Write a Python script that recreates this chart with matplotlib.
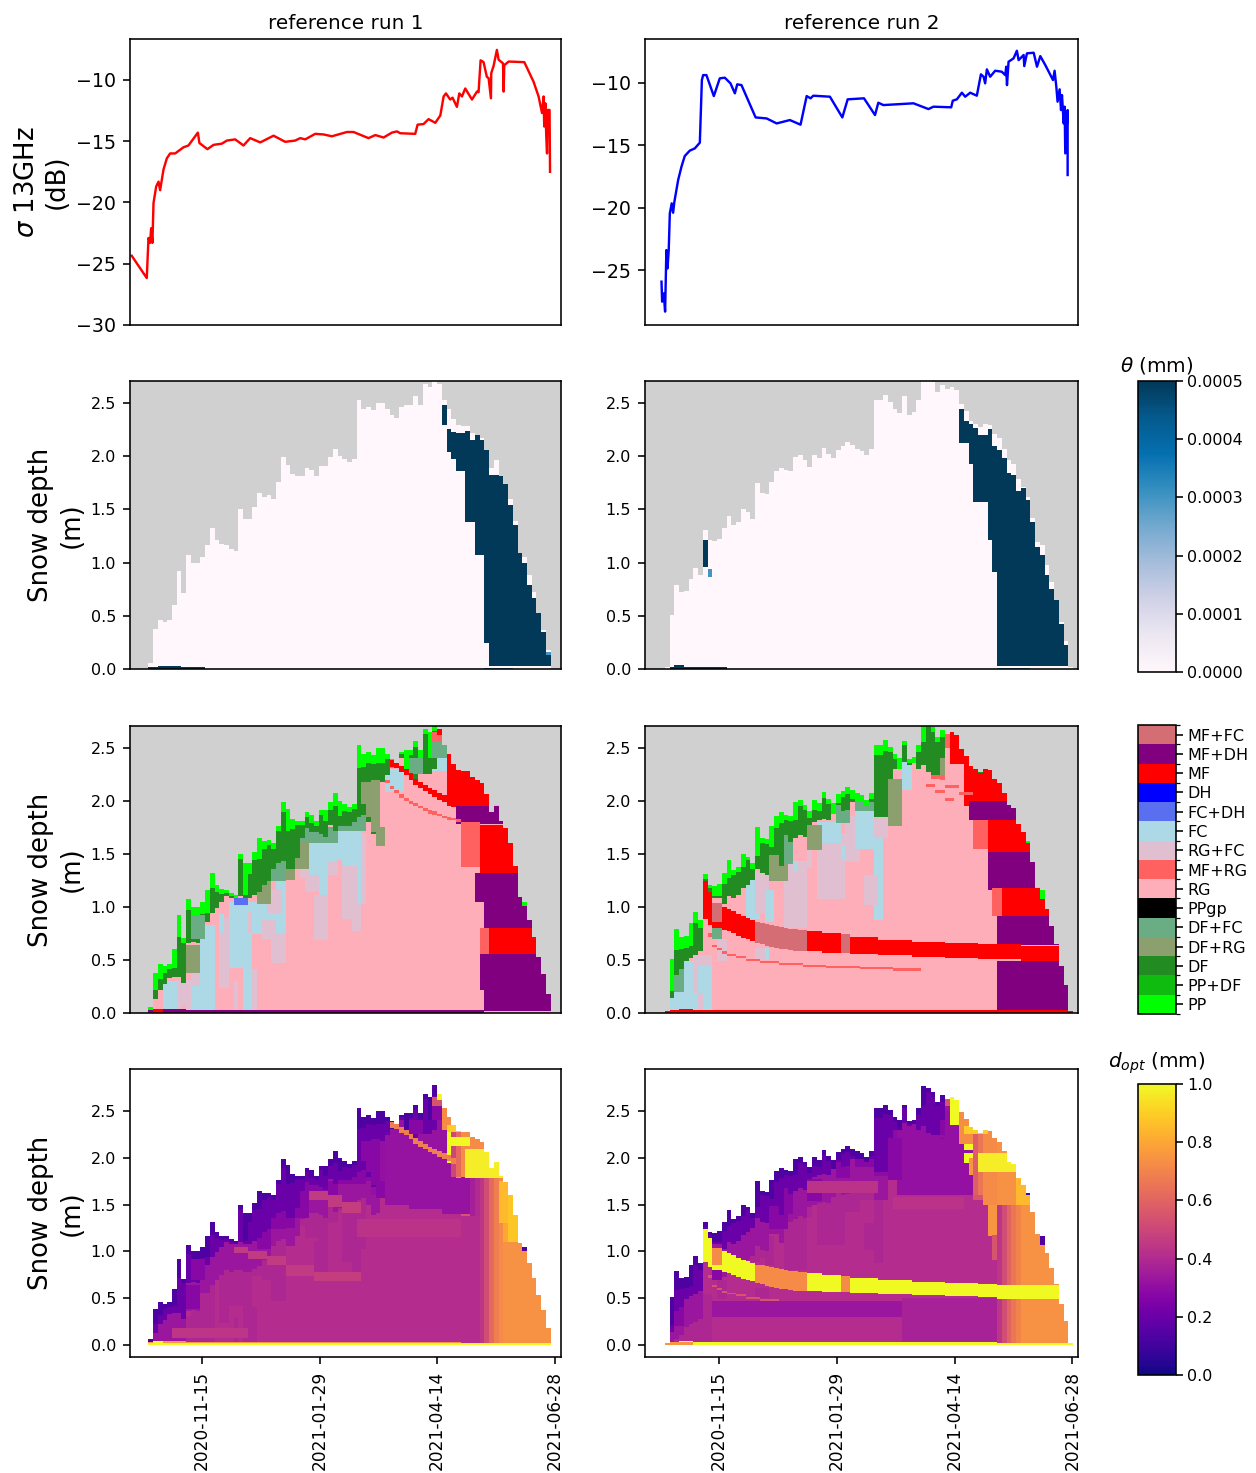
import numpy as np
from matplotlib import pyplot as plt
from matplotlib import dates as mdates
from matplotlib.cm import ScalarMappable
from matplotlib.colors import ListedColormap, BoundaryNorm, Normalize

W, H = 1256, 1473

tick_dates = ['2020-11-15', '2021-01-29', '2021-04-14', '2021-06-28']
titles = ['reference run 1', 'reference run 2']
grain_labels = ['PP', 'PP+DF', 'DF', 'DF+RG', 'DF+FC', 'PPgp', 'RG', 'MF+RG', 'RG+FC',
                'FC', 'FC+DH', 'DH', 'MF', 'MF+DH', 'MF+FC']
grain_colors = ['#00ff00', '#10bb10', '#228b22', '#8b9f6f', '#6aad85', '#000000', '#fdaeb9', '#ff6060', '#e0c0d0',
                '#add8e6', '#5a6ef0', '#0000ff', '#ff0000', '#800080', '#d56d75']
PP, PPDF, DF, DFRG, DFFC, PPGP, RG, MFRG, RGFC, FC, FCDH, DH, MF, MFDH, MFFC = range(15)
# typical optical diameter per grain type, mm
grain_dopt = [.13, .17, .20, .28, .28, .10, .41, .55, .39, .39, .40, .50, 1.0, .75, .72]

# backscatter: day counted from 2020-09-30, dB
sigma_day_1 = [1.1, 10.7, 11.8, 12.8, 13.5, 14.3, 15.0, 16.7, 18.2, 19.2, 21.4, 23.5, 25.6, 28.8, 34.1, 37.3, 43.3, 44.3,
               49.4, 53.3, 58.6, 61.8, 67.1, 72.4, 76.7, 83.1, 91.6, 99.0, 105.4, 108.6, 111.8, 118.2, 123.5, 128.8,
               138.4, 142.6, 152.2, 156.5, 161.8, 167.1, 170.3, 172.4, 182.0, 183.5, 187.3, 190.5, 194.8, 198.0, 200.1,
               201.6, 204.3, 205.8, 208.6, 210.1, 211.8, 213.9, 218.2, 221.4, 222.4, 223.7, 225.6, 227.7, 228.8, 230.3,
               230.5, 232.0, 234.1, 235.2, 238.0, 238.4, 238.8, 241.6, 251.6, 257.5, 260.7, 262.9, 263.9, 264.3, 265.0,
               265.6, 266.1, 266.5, 267.7, 268.0]
sigma_val_1 = [-24.35, -26.17, -22.9, -23.3, -22.1, -23.3, -20.05, -18.7, -18.3, -19.0, -17.3, -16.4, -16.0, -16.0, -15.5,
               -15.35, -14.3, -15.15, -15.65, -15.3, -15.2, -14.95, -14.85, -15.35, -14.75, -15.1, -14.55, -15.05, -14.95,
               -14.75, -14.85, -14.4, -14.45, -14.6, -14.25, -14.25, -14.75, -14.5, -14.7, -14.3, -14.2, -14.35, -14.4,
               -13.65, -13.6, -13.2, -13.5, -12.9, -11.35, -11.1, -11.6, -11.45, -12.2, -11.1, -11.35, -10.7, -11.6,
               -10.95, -11.0, -8.4, -8.55, -9.75, -9.85, -11.5, -9.45, -8.85, -7.55, -8.35, -8.65, -10.95, -8.8, -8.5,
               -8.55, -10.15, -11.35, -12.7, -11.35, -13.8, -11.9, -14.6, -16.0, -12.45, -12.45, -17.5]
sigma_day_2 = [9.5, 9.9, 10.9, 11.8, 12.6, 13.3, 14.1, 14.8, 16.0, 16.9, 17.7, 20.1, 22.2, 24.3, 27.5, 30.7, 33.9, 35.2,
               36.0, 38.1, 42.8, 46.6, 49.8, 53.4, 56.2, 57.7, 60.4, 69.4, 76.4, 82.8, 91.2, 98.0, 101.9, 104.4, 106.1,
               116.7, 124.6, 128.0, 138.4, 145.4, 147.5, 150.7, 169.9, 179.4, 182.6, 193.9, 194.9, 197.5, 200.7, 202.8,
               206.0, 210.2, 212.8, 214.5, 215.5, 216.6, 218.7, 221.9, 226.1, 228.3, 228.9, 229.4, 230.4, 233.6, 235.7,
               236.8, 240.0, 240.4, 242.1, 246.4, 248.5, 250.6, 253.8, 258.7, 259.7, 260.8, 261.6, 262.9, 263.8, 264.4,
               265.5, 266.1, 266.5, 268.0, 268.0]
sigma_val_2 = [-25.93, -27.53, -26.87, -28.33, -23.4, -24.87, -23.4, -20.46, -19.66, -20.41, -19.53, -17.79, -16.73, -15.87,
               -15.44, -15.26, -14.8, -9.79, -9.39, -9.39, -11.07, -9.65, -9.6, -10.05, -10.85, -10.13, -10.19, -12.78,
               -12.86, -13.26, -12.99, -13.36, -11.07, -11.25, -11.04, -11.12, -12.78, -11.33, -11.25, -12.59, -11.6,
               -11.79, -11.65, -12.11, -11.92, -11.97, -11.44, -11.33, -10.8, -11.12, -10.8, -11.04, -9.33, -9.52, -10.05,
               -8.93, -9.52, -9.04, -9.12, -9.39, -8.72, -10.19, -8.32, -8.05, -7.44, -8.19, -7.78, -8.67, -7.65, -7.6,
               -8.72, -7.87, -8.59, -9.79, -9.04, -10.32, -11.52, -10.53, -12.19, -10.99, -13.26, -11.92, -15.66, -12.19,
               -17.39]

# snow depth per 3-day column, m
depth_1 = [.06, .38, .46, .44, .46, .60, .92, .71, 1.07, 1.00, 1.00, 1.05, 1.16, 1.32, 1.21, 1.17, 1.16, 1.13, 1.11, 1.50,
           1.41, 1.41, 1.52, 1.65, 1.62, 1.63, 1.60, 1.76, 1.99, 1.92, 1.83, 1.81, 1.81, 1.89, 1.87, 1.81, 1.91, 1.91, 1.99,
           2.07, 2.00, 1.97, 1.94, 1.97, 2.53, 2.44, 2.46, 2.43, 2.50, 2.50, 2.44, 2.39, 2.36, 2.46, 2.48, 2.48, 2.56, 2.48,
           2.68, 2.65, 2.78, 2.68, 2.53, 2.44, 2.35, 2.29, 2.28, 2.28, 2.22, 2.20, 2.17, 2.06, 1.89, 1.96, 1.81, 1.74, 1.60,
           1.39, 1.09, 1.05, .88, .72, .53, .37, .18]
depth_2 = [.02, .51, .79, .72, .73, .85, .95, .88, 1.31, 1.21, 1.20, 1.22, 1.32, 1.44, 1.35, 1.38, 1.50, 1.47, 1.41, 1.75,
           1.65, 1.64, 1.76, 1.86, 1.89, 1.87, 1.86, 1.99, 2.01, 1.96, 1.90, 2.01, 1.98, 2.08, 2.02, 1.98, 2.06, 2.09, 2.13,
           2.10, 2.07, 2.05, 2.01, 2.07, 2.53, 2.53, 2.57, 2.51, 2.44, 2.40, 2.56, 2.39, 2.41, 2.53, 2.77, 2.75, 2.70, 2.60,
           2.67, 2.63, 2.65, 2.62, 2.49, 2.42, 2.33, 2.30, 2.27, 2.30, 2.29, 2.21, 2.17, 2.07, 1.96, 1.93, 1.78, 1.71, 1.62,
           1.42, 1.19, 1.16, .98, .82, .65, .44, .26, .02]

# thickness of fresh snow below the surface, lower limit of the DF layer
pp_thick_1 = [.06, .16, .14, .06, .05, .18, .20, .05, .10, .08, .08, .12, .22, .14, .07, .05, .03, .03, .03, .05, .30, .10,
              .08, .20, .07, .05, .05, .04, .10, .20, .10, .04, .04, .04, .08, .05, .04, .10, .08, .12, .14, .07, .05, .05,
              .22, .12, .10, .08, .14, .14, .05, .08, .04, .02, .18, .05, .05, .10, .05, .25, .12, .22, .0]
df_bottom_1 = [0, .13, .22, .27, .33, .34, .34, .28, .66, .67, .66, .86, .86, .94, .99, 1.05, 1.10, 1.08, 1.10, 1.10, 1.08,
               1.08, 1.11, 1.14, 1.21, 1.24, 1.36, 1.41, 1.43, 1.36, 1.36, 1.46, 1.65, 1.74, 1.71, 1.71, 1.69, 1.66, 1.77,
               1.72, 1.76, 1.76, 1.76, 1.80, 1.85, 1.87, 1.80, 1.69, 1.71, 2.18, 2.24, 2.36, 2.37, 2.40, 2.30, 2.25, 2.20,
               2.25, 2.25, 2.25, 2.30, 2.40, 2.50]
pp_thick_2 = [.02, .30, .20, .12, .12, .22, .10, .08, .05, .03, .10, .12, .10, .17, .05, .05, .12, .03, .05, .27, .05, .05,
              .20, .12, .10, .05, .05, .17, .06, .05, .06, .10, .08, .05, .05, .10, .08, .05, .07, .08, .08, .06, .05, .05,
              .10, .10, .10, .05, .05, .10, .03, .03, .05, .07, .22, .05, .05, .05, .07, .07, .05, .10, .0]
df_bottom_2 = [0, .14, .36, .41, .49, .52, .55, .58, 1.245, 1.144, 1.08, 1.08, 1.03, 1.10, 1.08, 1.11, 1.18, 1.21, 1.25, 1.36,
               1.32, 1.30, 1.49, 1.49, 1.39, 1.68, 1.61, 1.65, 1.68, 1.66, 1.77, 1.80, 1.82, 1.83, 1.82, 1.88, 1.96, 1.90,
               1.91, 1.99, 2.04, 2.04, 2.04, 1.99, 1.85, 1.85, 1.85, 2.21, 2.30, 2.34, 2.37, 2.34, 2.37, 2.30, 2.34, 2.27,
               2.24, 2.23, 2.40, 2.55, 2.55, 2.59, 2.60]

# grain patches as (first col, last col, from m, to m, type)
under_1 = [(3, 5, .02, .30, FC), (6, 8, .02, .31, RGFC), (7, 7, .02, .08, RG), (9, 13, .02, .25, FC), (9, 11, .25, .38, RGFC),
           (11, 13, .25, .83, FC), (15, 16, .24, .90, RGFC), (15, 15, .75, .93, FC), (17, 21, .42, 1.05, FC),
           (18, 18, .02, .30, RGFC), (20, 21, .02, .75, FC), (21, 21, .75, .95, RGFC), (22, 22, .02, .41, RGFC),
           (22, 28, .74, 1.05, FC), (24, 26, .70, .88, RGFC), (26, 28, .47, .74, RGFC), (27, 28, .74, 1.24, FC),
           (25, 27, .94, 1.16, RGFC), (33, 35, 1.14, 1.49, RGFC), (32, 32, 1.27, 1.61, RGFC), (35, 37, .69, 1.11, RGFC),
           (34, 38, 1.30, 1.60, FC), (36, 37, 1.11, 1.30, FC), (38, 39, 1.30, 1.43, RGFC), (38, 39, 1.43, 1.65, FC),
           (40, 41, 1.44, 1.74, FC), (41, 43, 1.39, 1.74, FC), (41, 43, .89, 1.39, RGFC), (43, 44, .77, 1.05, RGFC),
           (44, 44, 1.03, 1.74, FC), (45, 45, 1.03, 1.70, RGFC), (32, 32, 1.61, 1.71, FC),
           (32, 39, 1.60, 1.75, DFFC), (40, 45, 1.72, 1.87, DFFC), (23, 25, 1.03, 1.25, DFRG), (26, 28, 1.24, 1.43, DFFC),
           (29, 30, 1.25, 1.43, DFRG), (31, 33, 1.36, 1.61, DFRG), (8, 10, .38, .64, DFRG), (50, 53, 2.08, 2.30, FC),
           (58, 62, 2.28, 2.42, FC), (18, 20, 1.02, 1.08, FCDH)]
over_1 = [(9, 11, .70, .92, DFFC), (45, 46, 1.97, 2.18, DFRG), (46, 47, 1.85, 2.15, DFRG), (47, 48, 1.71, 2.20, DFRG),
          (48, 49, 1.57, 1.75, DFRG), (55, 57, 2.25, 2.40, DFFC), (60, 63, 2.40, 2.55, DFFC), (60, 63, 2.55, 2.65, MFRG),
          (61, 62, 2.62, 2.90, MF), (63, 72, 1.95, 2.90, MF), (74, 74, 1.81, 2.00, MF), (65, 75, 1.78, 1.95, MFDH),
          (66, 69, 1.38, 1.80, MFRG), (70, 77, 1.32, 1.77, MF), (69, 70, 1.05, 1.32, MFDH), (71, 84, .80, 1.32, MFDH),
          (70, 71, .56, .80, MFRG), (72, 83, .56, .80, MF), (70, 70, .22, .56, MFDH), (71, 84, .02, .56, MFDH),
          (71, 71, 2.12, 2.20, PP), (79, 79, 1.01, 1.05, PP), (0, 70, 0, .03, MFDH), (3, 7, 0, .04, MFDH), (1, 2, 0, .04, MF)]
streak_a_cols = [51, 52, 53, 54, 55, 56, 57, 58, 59, 60, 61, 62, 63, 64]
streak_a_mid = [2.35, 2.34, 2.30, 2.27, 2.23, 2.18, 2.15, 2.12, 2.09, 2.07, 2.04, 2.02, 2.00, 1.97]
streak_b_cols = [50, 51, 52, 53, 54, 55, 56, 57, 58, 59, 60, 61, 62, 63, 64, 65]
streak_b_mid = [2.19, 2.13, 2.09, 2.05, 2.02, 1.99, 1.97, 1.94, 1.92, 1.90, 1.89, 1.87, 1.85, 1.84, 1.83, 1.82]

under_2 = [(4, 6, .02, .49, FC), (6, 9, .19, .55, RGFC), (7, 9, .02, .44, FC), (7, 7, .02, .19, RGFC), (17, 19, .89, 1.25, FC),
           (19, 21, .93, 1.33, RGFC), (21, 22, .86, 1.16, FC), (25, 29, .80, 1.43, RGFC), (27, 27, 1.33, 1.43, FC),
           (30, 30, 1.37, 1.55, RGFC), (32, 37, 1.07, 1.70, RGFC), (32, 36, 1.60, 1.80, FC), (37, 37, 1.44, 1.58, FC),
           (38, 40, 1.42, 1.86, RGFC), (40, 43, 1.55, 1.90, FC), (44, 45, .88, 1.65, FC), (42, 44, 1.02, 1.30, RGFC),
           (44, 46, 1.65, 1.95, RGFC), (22, 25, 1.24, 1.49, DFRG), (25, 26, 1.40, 1.68, DFFC), (30, 32, 1.54, 1.77, DFRG),
           (36, 38, 1.79, 1.96, DFFC), (40, 44, 1.90, 2.04, DFFC), (19, 21, .50, .61, RGFC), (21, 21, .50, .61, FC),
           (50, 51, 2.10, 2.37, FC), (2, 3, .20, .42, DFFC), (1, 3, .03, .20, FC), (10, 11, .70, .80, DFFC),
           (11, 12, .49, .70, RGFC)]
over_2 = [(47, 49, 1.76, 2.21, DFRG), (58, 58, 2.20, 2.40, DFRG), (59, 60, 2.50, 2.66, MFRG), (60, 62, 2.35, 2.70, MF),
          (63, 72, 1.95, 2.90, MF), (64, 74, 1.82, 2.00, MFDH), (65, 67, 1.55, 1.82, MFRG), (68, 76, 1.47, 1.82, MF),
          (68, 77, 1.16, 1.52, MFDH), (69, 70, .91, 1.18, MFRG), (71, 81, .88, 1.18, MF), (70, 83, .64, .91, MFDH),
          (70, 85, .02, .49, MFDH), (70, 70, 2.17, 2.22, PP), (79, 79, 1.07, 1.16, PP), (76, 76, 1.60, 1.64, PP),
          (66, 66, 2.26, 2.30, DF)]
# long melt-freeze crust in run 2
crust_2 = [(8, 8, .895, 1.245, MF), (9, 9, .83, 1.144, MF), (10, 11, .86, 1.04, MFFC), (10, 11, .80, .86, MF),
           (12, 12, .785, 1.00, MF), (13, 13, .77, .98, MF), (14, 14, .75, .96, MF), (15, 15, .73, .93, MF),
           (16, 16, .71, .915, MF), (17, 17, .70, .90, MF), (18, 18, .68, .88, MF), (19, 19, .66, .86, MFFC),
           (20, 20, .65, .85, MFFC), (21, 21, .635, .84, MFFC), (22, 22, .625, .835, MFFC), (23, 23, .61, .825, MFFC),
           (24, 24, .60, .815, MFFC), (25, 25, .60, .805, MFFC), (26, 26, .59, .795, MFFC), (27, 27, .585, .79, MFFC),
           (28, 28, .58, .785, MFFC), (29, 29, .58, .78, MFFC), (30, 32, .58, .775, MF), (33, 36, .575, .75, MF),
           (37, 38, .57, .74, MFFC), (39, 44, .565, .72, MF), (45, 51, .55, .69, MF), (52, 58, .535, .675, MF),
           (59, 65, .52, .66, MF), (66, 74, .51, .65, MF), (75, 83, .49, .63, MF)]
streak_c = [(9, 9, .72, .75, MFRG), (10, 10, .62, .64, MFRG), (11, 11, .59, .61, MFRG), (12, 12, .56, .58, MFRG),
            (13, 14, .54, .56, MFRG), (15, 16, .52, .54, MFRG), (17, 19, .49, .51, MFRG), (20, 23, .47, .49, MFRG),
            (24, 28, .45, .47, MFRG), (29, 33, .43, .45, MFRG), (34, 40, .42, .44, MFRG), (41, 47, .41, .43, MFRG),
            (48, 53, .40, .42, MFRG), (55, 56, 2.13, 2.16, MFRG), (57, 58, 2.07, 2.10, MFRG), (59, 60, 2.00, 2.03, MFRG),
            (56, 58, 2.21, 2.24, MFRG), (59, 61, 2.12, 2.15, MFRG), (62, 64, 2.05, 2.08, MFRG),
            (0, 85, 0, .03, MF), (3, 5, .02, .04, MF)]

# liquid water: wet columns with lower and upper limit, m
wet_cols_1 = [62, 63, 64, 65, 66, 67, 68, 69, 70, 71, 72, 73, 74, 75, 76, 77, 78, 79, 80, 81, 82, 83, 84]
wet_lo_1 = [2.29, 2.04, 1.97, 1.86, 1.86, 1.38, 1.38, 1.07, 1.07, .24, .03, .03, .03, .03, .03, .03, .03, .03, .03, .03, .03, .03, .03]
wet_hi_1 = [2.48, 2.25, 2.23, 2.22, 2.22, 2.24, 2.15, 2.20, 2.15, 2.10, 1.82, 1.82, 1.92, 1.75, 1.54, 1.35, 1.10, 1.00, .79, .67, .53, .35, .13]
wet_cols_2 = [62, 63, 64, 65, 66, 67, 68, 69, 70, 71, 72, 73, 74, 75, 76, 77, 78, 79, 80, 81, 82, 83, 84]
wet_lo_2 = [2.12, 2.12, 1.93, 1.57, 1.57, 1.57, 1.21, .91, .03, .03, .03, .03, .03, .03, .03, .03, .03, .03, .03, .03, .03, .03, .03]
wet_hi_2 = [2.44, 2.33, 2.30, 2.26, 2.20, 2.20, 2.25, 2.09, 2.06, 1.98, 1.84, 1.82, 1.67, 1.70, 1.59, 1.38, 1.15, 1.07, .88, .75, .65, .42, .23]
wet_extra_1 = [(0, 11, 0, .02, 5e-4), (2, 6, 0, .03, 5e-4), (71, 76, 0, .01, 3e-4), (84, 84, .13, .16, 3e-4)]
wet_extra_2 = [(1, 12, 0, .02, 5e-4), (2, 3, 0, .04, 5e-4), (8, 8, .96, 1.21, 5e-4), (9, 9, .86, .94, 3e-4), (70, 76, 0, .01, 3e-4)]

# optical diameter corrections on top of grain_dopt, (first col, last col, from m, to m, mm)
dopt_low_1 = [(44, 46, 1.75, 2.60, .29), (47, 49, 1.60, 2.50, .31), (50, 54, 1.50, 2.50, .32), (55, 61, 1.45, 2.50, .32),
              (62, 69, 1.40, 2.40, .32)]
dopt_high_1 = [(18, 20, .98, 1.05, .46), (21, 24, .92, 1.00, .46), (25, 28, .85, .95, .46), (29, 34, .74, .85, .46),
               (35, 44, .68, .78, .47), (34, 37, 1.55, 1.65, .46), (38, 40, 1.48, 1.60, .46), (41, 44, 1.41, 1.53, .47),
               (5, 20, .07, .18, .44), (44, 67, 1.15, 1.35, .43)]
dopt_melt_1 = [(70, 70, .02, 1.80, .44), (71, 71, .02, 1.80, .52), (72, 72, .02, 1.80, .62), (73, 73, .02, 1.80, .68),
               (74, 74, .02, 1.80, .72), (75, 84, .02, 1.80, .74), (66, 69, .02, 1.38, .41), (68, 68, 1.38, 1.80, .36),
               (69, 69, 1.38, 1.80, .40), (64, 64, 1.80, 2.90, .50), (65, 65, 1.80, 2.90, .62), (66, 75, 1.80, 2.90, .72),
               (75, 78, 1.10, 1.80, .80), (62, 63, 2.30, 2.90, .72)]
dopt_hot_1 = [(67, 75, 1.78, 2.10, .97), (63, 67, 2.13, 2.22, 1.0), (63, 66, 2.28, 2.35, .90), (74, 76, 1.30, 1.75, .85),
              (76, 78, 1.10, 1.60, .88), (0, 84, 0, .02, 1.0), (73, 74, 1.96, 2.10, .62)]
dopt_low_2 = [(44, 48, 1.81, 2.70, .29), (49, 65, 1.60, 2.50, .31), (10, 49, .30, .47, .33), (50, 69, .02, .50, .37)]
dopt_high_2 = [(48, 62, 1.45, 1.58, .43), (30, 44, 1.62, 1.75, .43)]
dopt_melt_2 = [(70, 70, .02, 1.50, .44), (71, 71, .02, 1.50, .52), (72, 72, .02, 1.50, .60), (73, 73, .02, 1.50, .66),
               (74, 74, .02, 1.50, .70), (75, 85, .02, 1.50, .74), (62, 64, 2.15, 2.90, .73), (65, 65, 1.60, 2.90, .58),
               (66, 66, 1.60, 2.90, .66), (67, 69, 1.50, 2.90, .72), (70, 78, 1.50, 2.90, .74)]
dopt_hot_2 = [(66, 74, 1.85, 2.05, .97), (63, 67, 2.26, 2.34, .90), (74, 78, 1.50, 1.80, .85), (70, 83, .49, .64, 1.0),
              (0, 85, 0, .02, 1.0), (0, 5, 0, .03, .75)]

z_edges = np.arange(0, 2.8101, .01)
z_mid = (z_edges[:-1] + z_edges[1:]) / 2
day0 = mdates.date2num(np.datetime64('2020-09-30'))
col0 = mdates.date2num(np.datetime64('2020-10-11T17'))


def paint(field, spans):
    for c0, c1, lo, hi, val in spans:
        field[c0:c1 + 1, (z_mid >= lo) & (z_mid < hi)] = val


def grain_field(depth, under, df_bottom, pp_thick, layers):
    grain = np.full((len(depth), len(z_mid)), RG)
    paint(grain, under)
    for c, lo in enumerate(df_bottom):
        grain[c, z_mid >= lo] = DF
    for c, t in enumerate(pp_thick):
        grain[c, z_mid > depth[c] - t] = PP
    for spans in layers:
        paint(grain, spans)
    return grain


def dopt_field(grain, df_bottom, low, high, melt, hot):
    dopt = np.array(grain_dopt)[grain]
    melted = grain >= MF
    # the snow just under the young layer is still fine grained
    for c, lo in enumerate(df_bottom):
        below = (z_mid > lo - .3) & (z_mid < lo) & ~melted[c]
        dopt[c, below] = np.minimum(dopt[c, below], .33)
    for c0, c1, lo, hi, val in low:
        box = np.zeros(dopt.shape, bool)
        box[c0:c1 + 1, (z_mid >= lo) & (z_mid < hi)] = True
        dopt[box & ~melted] = np.minimum(dopt, val)[box & ~melted]
    for c0, c1, lo, hi, val in high:
        box = np.zeros(dopt.shape, bool)
        box[c0:c1 + 1, (z_mid >= lo) & (z_mid < hi)] = True
        dopt[box & ~melted] = np.maximum(dopt, val)[box & ~melted]
    paint(dopt, melt)
    paint(dopt, hot)
    dopt[grain == PP] = grain_dopt[PP]
    return dopt


def theta_field(depth, cols, lo, hi, extra):
    theta = np.zeros((len(depth), len(z_mid)))
    paint(theta, [(c, c, a, b, 5e-4) for c, a, b in zip(cols, lo, hi)])
    paint(theta, extra)
    return theta


def streak(cols, mid, half, code):
    return [(c, c, m - half, m + half, code) for c, m in zip(cols, mid)]


def px_axes(x0, x1, y0, y1):
    return fig.add_axes([x0 / W, 1 - y1 / H, (x1 - x0) / W, (y1 - y0) / H])


grain_1 = grain_field(depth_1, under_1, df_bottom_1, pp_thick_1,
                      [over_1, streak(streak_b_cols, streak_b_mid, .015, MFRG), streak(streak_a_cols, streak_a_mid, .028, MF)])
grain_2 = grain_field(depth_2, under_2, df_bottom_2, pp_thick_2, [over_2, crust_2, streak_c])
grains = [grain_1, grain_2]
depths = [depth_1, depth_2]
dopts = [dopt_field(grain_1, df_bottom_1, dopt_low_1, dopt_high_1,
                    dopt_melt_1 + streak(streak_a_cols, streak_a_mid, .028, .68), dopt_hot_1),
         dopt_field(grain_2, df_bottom_2, dopt_low_2, dopt_high_2, dopt_melt_2, dopt_hot_2)]
thetas = [theta_field(depth_1, wet_cols_1, wet_lo_1, wet_hi_1, wet_extra_1),
          theta_field(depth_2, wet_cols_2, wet_lo_2, wet_hi_2, wet_extra_2)]
sigma_days = [sigma_day_1, sigma_day_2]
sigma_vals = [sigma_val_1, sigma_val_2]
line_colors = ['red', 'blue']

col_x = [(130, 561), (645, 1078)]
row_y = [(39, 325), (381, 669), (726, 1013), (1069, 1357)]
xlims = [(day0, day0 + 275), (day0 - 1, day0 + 274.6)]
sigma_lims = [(-30, -6.66), (-29.4, -6.5)]
sigma_ticks = [[-30, -25, -20, -15, -10], [-25, -20, -15, -10]]
depth_ticks = [0, .5, 1, 1.5, 2, 2.5]
depth_labels = ['0.0', '0.5', '1.0', '1.5', '2.0', '2.5']

grain_cmap = ListedColormap(grain_colors)
grain_norm = BoundaryNorm(np.arange(-.5, 15.5), 15)
theta_norm = Normalize(0, 5e-4)
dopt_norm = Normalize(0, 1)

fig = plt.figure(figsize=(W / 144, H / 144), dpi=144)

for k in range(2):
    x0, x1 = col_x[k]
    x_edges = col0 + 3.02 * np.arange(len(depths[k]) + 1)
    snowless = z_mid[None, :] > np.array(depths[k])[:, None]

    ax = px_axes(x0, x1, *row_y[0])
    ax.plot(day0 + np.array(sigma_days[k]), sigma_vals[k], color=line_colors[k], linewidth=1.2)
    ax.set_xlim(xlims[k])
    ax.set_ylim(sigma_lims[k])
    ax.set_yticks(sigma_ticks[k])
    ax.set_xticks([])
    ax.tick_params(axis='y', labelsize=9.5)
    ax.set_title(titles[k], fontsize=10, pad=5)
    if k == 0:
        ax.set_ylabel('$\\sigma$ 13GHz\n(dB)', fontsize=13, labelpad=3)

    fields = [thetas[k], grains[k], dopts[k]]
    cmaps = ['PuBu', grain_cmap, 'plasma']
    norms = [theta_norm, grain_norm, dopt_norm]
    for r in range(3):
        ax = px_axes(x0, x1, *row_y[r + 1])
        ax.pcolormesh(x_edges, z_edges, np.ma.masked_where(snowless, fields[r]).T,
                      cmap=cmaps[r], norm=norms[r], shading='flat')
        ax.set_xlim(xlims[k])
        ax.set_yticks(depth_ticks)
        ax.set_yticklabels(depth_labels)
        ax.tick_params(axis='y', labelsize=8)
        if r < 2:
            ax.set_ylim(0, 2.705)
            ax.set_facecolor('#d0d0d0')
            ax.set_xticks([])
        else:
            ax.set_ylim(-.128, 2.95)
            ax.set_xticks(mdates.date2num(np.array(tick_dates, dtype='datetime64[D]')))
            ax.set_xticklabels(tick_dates, rotation=90, fontsize=8.5)
        if k == 0:
            ax.set_ylabel('Snow depth\n(m)', fontsize=13, labelpad=3)

cax = px_axes(1138, 1176, 381, 672)
cb = fig.colorbar(ScalarMappable(theta_norm, 'PuBu'), cax=cax, ticks=[0, 1e-4, 2e-4, 3e-4, 4e-4, 5e-4], format='%.4f')
cb.ax.tick_params(labelsize=8, pad=2)
cax.set_title('$\\theta$ (mm)', fontsize=10, pad=5)

cax = px_axes(1138, 1176, 725, 1014)
cb = fig.colorbar(ScalarMappable(grain_norm, grain_cmap), cax=cax, ticks=np.arange(15))
cb.ax.set_yticklabels(grain_labels, fontsize=8)
cb.ax.minorticks_off()
cb.ax.tick_params(pad=2)
cb.ax.set_yticks(np.arange(-.5, 15), minor=True)
cb.ax.tick_params(which='minor', length=2)

cax = px_axes(1138, 1176, 1084, 1375)
cb = fig.colorbar(ScalarMappable(dopt_norm, 'plasma'), cax=cax, ticks=[0, .2, .4, .6, .8, 1], format='%.1f')
cb.ax.tick_params(labelsize=8, pad=2)
cax.set_title('$d_{opt}$ (mm)', fontsize=10, pad=8)

fig.savefig('out.png', dpi=144)
